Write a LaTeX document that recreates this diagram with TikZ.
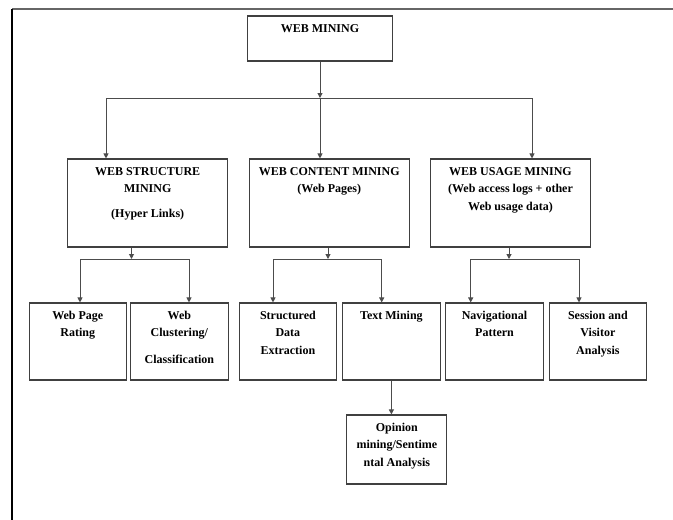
\documentclass[tikz,border=0pt]{standalone}
\usepackage{fontspec}
\setmainfont{Liberation Serif}
\usepackage{xcolor}
\usepackage{tikz}
\usetikzlibrary{arrows.meta}

\begin{document}
\begin{tikzpicture}[x=1pt, y=-1pt,
  box/.style={draw=black!75, line width=1.1pt, fill=white, inner sep=0pt},
  topbox/.style={box, minimum width=145pt, minimum height=45pt},
  midbox/.style={box, minimum width=160pt, minimum height=88pt},
  leafbox/.style={box, minimum width=97.5pt, minimum height=77pt},
  txt/.style={anchor=north, align=center, inner sep=0pt, yshift=-8.5pt,
    font=\bfseries\fontsize{12}{17.5}\selectfont},
  link/.style={draw=black!70, line width=1pt},
  arr/.style={link, -{Triangle[length=5pt,width=5pt]}}]
  \useasboundingbox (0,0) rectangle (673,520);

  % frame
  \draw[black!60, line width=1.2pt] (12,9) -- (673,9);
  \draw[black, line width=1.5pt] (12,9) -- (12,520);

  % top
  \node[topbox, label={[txt]north:{WEB MINING}}] (wm) at (320,38.5) {};

  % second level
  \node[midbox, label={[txt]north:{WEB STRUCTURE\\MINING\\[7pt](Hyper Links)}}] (wsm) at (147.7,203) {};
  \node[midbox, label={[txt]north:{WEB CONTENT MINING\\(Web Pages)}}] (wcm) at (329.3,203) {};
  \node[midbox, label={[txt]north:{WEB USAGE MINING\\(Web access logs + other\\Web usage data)}}] (wum) at (510.5,203) {};

  % third level
  \node[leafbox, label={[txt]north:{Web Page\\Rating}}] (rate) at (77.8,341.5) {};
  \node[leafbox, label={[txt]north:{Web\\Clustering/\\[9pt]Classification}}] (clus) at (179.4,341.5) {};
  \node[leafbox, label={[txt]north:{Structured\\Data\\Extraction}}] (sde) at (287.9,341.5) {};
  \node[leafbox, label={[txt]north:{Text Mining}}] (tm) at (391.4,341.5) {};
  \node[leafbox, label={[txt]north:{Navigational\\Pattern}}] (nav) at (494.5,341.5) {};
  \node[leafbox, label={[txt]north:{Session and\\Visitor\\Analysis}}] (sva) at (597.9,341.5) {};

  % fourth level
  \node[box, minimum width=100pt, minimum height=69pt,
    label={[txt]north:{Opinion\\mining/Sentime\\ntal Analysis}}] (opin) at (396.9,449.5) {};

  % web mining -> second level
  \coordinate (busL) at (106,98);
  \coordinate (busR) at (532,98);
  \draw[arr] (wm.south) -- (wm.south |- busL);
  \draw[link] (busL) -- (busR);
  \draw[arr] (busL) -- (busL |- wsm.north);
  \draw[arr] (wm.south |- busL) -- (wm.south |- wcm.north);
  \draw[arr] (busR) -- (busR |- wum.north);

  % structure -> leaves
  \coordinate (sM) at (131.5,259);
  \coordinate (sL) at (80,259);
  \coordinate (sR) at (189,259);
  \draw[arr] (sM |- wsm.south) -- (sM);
  \draw[link] (sL) -- (sR);
  \draw[arr] (sL) -- (sL |- rate.north);
  \draw[arr] (sR) -- (sR |- clus.north);

  % content -> leaves
  \coordinate (cM) at (328,259);
  \coordinate (cL) at (273,259);
  \coordinate (cR) at (381.7,259);
  \draw[arr] (cM |- wcm.south) -- (cM);
  \draw[link] (cL) -- (cR);
  \draw[arr] (cL) -- (cL |- sde.north);
  \draw[arr] (cR) -- (cR |- tm.north);

  % usage -> leaves
  \coordinate (uM) at (509,259);
  \coordinate (uL) at (470.7,259);
  \coordinate (uR) at (579,259);
  \draw[arr] (uM |- wum.south) -- (uM);
  \draw[link] (uL) -- (uR);
  \draw[arr] (uL) -- (uL |- nav.north);
  \draw[arr] (uR) -- (uR |- sva.north);

  % text mining -> opinion
  \draw[arr] (tm.south) -- (tm.south |- opin.north);
\end{tikzpicture}
\end{document}
